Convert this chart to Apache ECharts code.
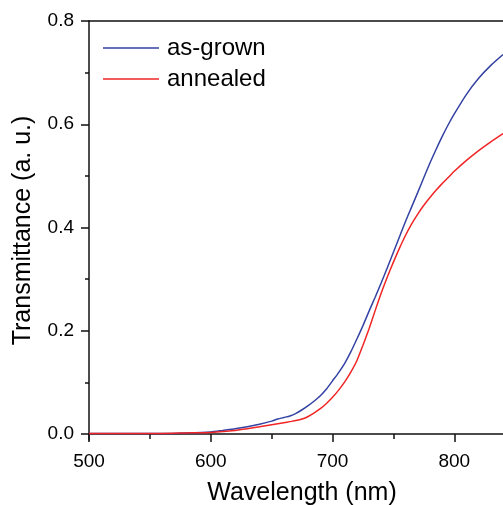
<!DOCTYPE html>
<html>
<head>
<meta charset="utf-8">
<script src="https://cdn.jsdelivr.net/npm/echarts@6/dist/echarts.min.js"></script>
<style>
  html, body { margin: 0; padding: 0; background: #fff; }
  #main { width: 503px; height: 505px; }
</style>
</head>
<body>
<div id="main"></div>
<script>
    // wavelength (nm)
    var wavelength = [500, 520, 540, 560, 580, 600, 610, 620, 630, 640, 650, 655, 660, 665, 670, 675, 680, 685, 690, 695,
        700, 705, 710, 715, 720, 725, 730, 735, 740, 745, 750, 755, 760, 765, 770, 775, 780, 785, 790, 795,
        800, 810, 820, 830, 840];
    // transmittance, as-grown
    var asGrown = [0.001, 0.001, 0.001, 0.001, 0.002, 0.004, 0.007, 0.010, 0.014, 0.019, 0.025, 0.029, 0.032, 0.035, 0.040, 0.047, 0.055, 0.064, 0.074, 0.087,
        0.103, 0.119, 0.137, 0.159, 0.184, 0.210, 0.238, 0.265, 0.293, 0.322, 0.352, 0.382, 0.412, 0.440, 0.468, 0.497, 0.525, 0.551, 0.576, 0.599,
        0.620, 0.658, 0.689, 0.714, 0.735];
    // transmittance, annealed
    var annealed = [0.001, 0.001, 0.001, 0.001, 0.002, 0.003, 0.005, 0.007, 0.010, 0.014, 0.018, 0.020, 0.022, 0.024, 0.026, 0.029, 0.034, 0.041, 0.049, 0.059,
        0.071, 0.085, 0.101, 0.120, 0.142, 0.172, 0.204, 0.239, 0.273, 0.304, 0.333, 0.360, 0.385, 0.407, 0.426, 0.443, 0.458, 0.472, 0.485, 0.497,
        0.509, 0.530, 0.549, 0.566, 0.582];

    var xMajor = [500, 600, 700, 800];
    var xMinor = [550, 650, 750];
    var yMajor = [0, 0.2, 0.4, 0.6, 0.8];
    var yMinor = [0.1, 0.3, 0.5, 0.7];

    function pairs(xs, ys) {
        return xs.map(function (x, i) { return [x, ys[i]]; });
    }

    var font = 'Liberation Sans, Arial, sans-serif';
    var axisColor = '#111';

    var chart = echarts.init(document.getElementById('main'));
    var option = {
        animation: false,
        backgroundColor: '#fff',
        textStyle: { fontFamily: font, color: '#000' },
        grid: { left: 89, right: 0, top: 21, bottom: 65, outerBoundsMode: 'none', containLabel: false },
        legend: {
            orient: 'vertical',
            left: 98,
            top: 31,
            itemWidth: 56,
            itemHeight: 1.5,
            itemGap: 7,
            icon: 'rect',
            data: ['as-grown', 'annealed'],
            textStyle: { fontFamily: font, fontSize: 24, color: '#000', lineHeight: 24, padding: [0, 0, 0, 3] }
        },
        xAxis: [
            {
                type: 'value', position: 'bottom', min: 500, max: 840,
                axisLine: { lineStyle: { color: axisColor, width: 1.5 } },
                axisTick: { customValues: xMajor, length: 8, lineStyle: { color: axisColor, width: 1.5 } },
                axisLabel: { customValues: xMajor, fontSize: 19, margin: 12, color: '#000', fontFamily: font },
                splitLine: { show: false },
                name: 'Wavelength (nm)', nameLocation: 'middle', nameGap: 41,
                nameTextStyle: { fontSize: 25, color: '#000', fontFamily: font, padding: [0, 0, 0, 12] }
            },
            {
                type: 'value', position: 'bottom', min: 500, max: 840,
                axisLine: { show: false },
                axisTick: { customValues: xMinor, length: 5, lineStyle: { color: axisColor, width: 1.5 } },
                axisLabel: { show: false },
                splitLine: { show: false }
            },
            {
                type: 'value', position: 'top', min: 500, max: 840,
                axisLine: { lineStyle: { color: axisColor, width: 1.5 } },
                axisTick: { show: false },
                axisLabel: { show: false },
                splitLine: { show: false }
            }
        ],
        yAxis: [
            {
                type: 'value', position: 'left', min: -0.0116, max: 0.8,
                axisLine: { show: true, lineStyle: { color: axisColor, width: 1.5 } },
                axisTick: { show: true, customValues: yMajor, length: 8, lineStyle: { color: axisColor, width: 1.5 } },
                axisLabel: {
                    customValues: yMajor, fontSize: 19, margin: 15, color: '#000', fontFamily: font,
                    formatter: function (v) { return v.toFixed(1); }
                },
                splitLine: { show: false },
                name: 'Transmittance (a. u.)', nameLocation: 'middle', nameGap: 53,
                nameTextStyle: { fontSize: 25, color: '#000', fontFamily: font }
            },
            {
                type: 'value', position: 'left', min: -0.0116, max: 0.8,
                axisLine: { show: false },
                axisTick: { show: true, customValues: yMinor, length: 4, lineStyle: { color: axisColor, width: 1.5 } },
                axisLabel: { show: false },
                splitLine: { show: false }
            }
        ],
        series: [
            {
                name: 'as-grown', type: 'line', data: pairs(wavelength, asGrown),
                xAxisIndex: 0, yAxisIndex: 0,
                showSymbol: false, symbol: 'none', smooth: 0.2,
                itemStyle: { color: '#3442a3' },
                lineStyle: { color: '#3442a3', width: 1.5 }
            },
            {
                name: 'annealed', type: 'line', data: pairs(wavelength, annealed),
                xAxisIndex: 0, yAxisIndex: 0,
                showSymbol: false, symbol: 'none', smooth: 0.2,
                itemStyle: { color: '#f02525' },
                lineStyle: { color: '#f02525', width: 1.5 }
            }
        ]
    };
    chart.setOption(option);
</script>
</body>
</html>
